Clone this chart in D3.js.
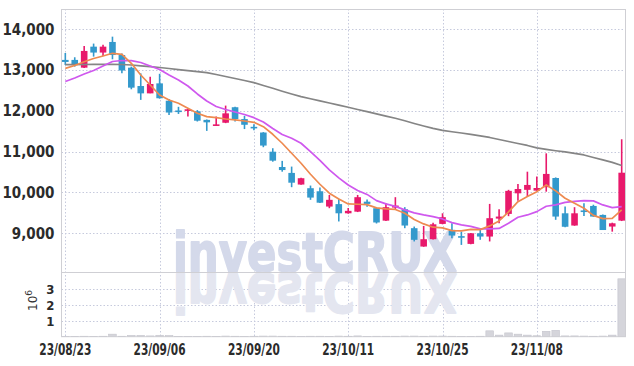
<!DOCTYPE html>
<html>
<head>
<meta charset="utf-8">
<script src="https://cdn.jsdelivr.net/npm/d3@7.9.0/dist/d3.min.js"></script>
<style>
  body { margin: 0; background: #fff; }
  svg { display: block; }
  .axis text {
    font-family: "Liberation Sans Narrow", "DejaVu Sans Condensed", sans-serif;
    font-weight: bold;
    font-size: 15px;
    fill: #2b2b2b;
  }
  .axis .domain { display: none; }
</style>
</head>
<body>
<svg id="chart" width="634" height="366"></svg>
<script>
// Korean trading days, 2023-08-23 .. 2023-11-21 (yy/mm/dd)
const dates = [
  '23/08/23', '23/08/24', '23/08/25', '23/08/28', '23/08/29', '23/08/30', '23/08/31', '23/09/01', '23/09/04', '23/09/05',
  '23/09/06', '23/09/07', '23/09/08', '23/09/11', '23/09/12', '23/09/13', '23/09/14', '23/09/15', '23/09/18', '23/09/19',
  '23/09/20', '23/09/21', '23/09/22', '23/09/25', '23/09/26', '23/09/27', '23/10/04', '23/10/05', '23/10/06', '23/10/10',
  '23/10/11', '23/10/12', '23/10/13', '23/10/16', '23/10/17', '23/10/18', '23/10/19', '23/10/20', '23/10/23', '23/10/24',
  '23/10/25', '23/10/26', '23/10/27', '23/10/30', '23/10/31', '23/11/01', '23/11/02', '23/11/03', '23/11/06', '23/11/07',
  '23/11/08', '23/11/09', '23/11/10', '23/11/13', '23/11/14', '23/11/15', '23/11/16', '23/11/17', '23/11/20', '23/11/21',
];

const opens = [
  13250, 13250, 13060, 13575, 13430, 13690, 13370, 13060, 12610, 12430,
  12675, 12250, 12010, 12000, 11990, 11780, 11640, 11710, 12090, 11800,
  11610, 11470, 11000, 10625, 10480, 10195, 10105, 10030, 9655, 9715,
  9490, 9530, 9775, 9615, 9310, 9630, 9590, 9125, 8675, 8855,
  9230, 9085, 8930, 8740, 9000, 8920, 9360, 9475, 9980, 10065,
  10045, 10130, 10355, 9490, 9190, 9560, 9670, 9450, 9165, 9310,
];
const highs = [
  13420, 13315, 13590, 13650, 13620, 13820, 13410, 13085, 12920, 12840,
  12910, 12290, 12100, 12060, 12020, 11790, 11860, 12130, 12100, 11880,
  11670, 11480, 11085, 10775, 10635, 10360, 10170, 10120, 9940, 9845,
  9620, 9940, 9830, 9630, 9735, 9885, 9640, 9165, 9180, 9260,
  9490, 9245, 9040, 9010, 9100, 9720, 9590, 10065, 10210, 10510,
  10390, 10960, 10370, 9655, 9640, 9735, 9700, 9460, 9260, 11305,
];
const lows = [
  13125, 13085, 13050, 13330, 13345, 13265, 12920, 12530, 12270, 12430,
  12300, 11900, 11925, 11860, 11740, 11510, 11640, 11700, 11740, 11555,
  11525, 11110, 10755, 10510, 10130, 10190, 9820, 9740, 9615, 9290,
  9480, 9520, 9650, 9240, 9300, 9575, 9125, 8800, 8670, 8850,
  9220, 8880, 8715, 8730, 8840, 8800, 9245, 9420, 9795, 9900,
  10040, 10020, 9330, 9150, 9185, 9425, 9405, 9080, 9040, 9300,
];
const closes = [
  13200, 13150, 13470, 13430, 13575, 13370, 12990, 12570, 12430, 12660,
  12310, 11960, 11990, 12040, 11760, 11720, 11670, 11940, 11800, 11660,
  11600, 11150, 10780, 10550, 10240, 10350, 9875, 9750, 9820, 9490,
  9550, 9885, 9720, 9265, 9640, 9680, 9190, 8840, 8855, 9220,
  9395, 8945, 8920, 9000, 8920, 9370, 9410, 10040, 10085, 10185,
  10110, 10455, 9410, 9160, 9490, 9550, 9410, 9080, 9245, 10485,
];
const volumes = [
  20000, 20000, 30000, 20000, 30000, 160000, 30000, 80000, 80000, 50000,
  90000, 70000, 20000, 20000, 20000, 30000, 20000, 40000, 30000, 20000,
  30000, 40000, 40000, 30000, 30000, 20000, 30000, 30000, 20000, 40000,
  30000, 50000, 20000, 30000, 30000, 30000, 40000, 40000, 30000, 40000,
  40000, 30000, 20000, 20000, 30000, 370000, 100000, 240000, 160000, 100000,
  60000, 340000, 400000, 50000, 50000, 40000, 30000, 40000, 100000, 3650000,
];

// moving averages
const ma5 = [
  13044, 13113, 13206, 13285, 13346, 13412, 13388, 13167, 12880, 12635,
  12390, 12268, 12187, 12064, 11942, 11859, 11834, 11802, 11778, 11753,
  11721, 11614, 11427, 11207, 10962, 10717, 10447, 10202, 9982, 9842,
  9720, 9712, 9703, 9622, 9597, 9585, 9492, 9340, 9230, 9149,
  9132, 9066, 9060, 9095, 9090, 9181, 9303, 9524, 9776, 9899,
  10021, 10185, 10040, 9859, 9737, 9614, 9440, 9360, 9365, 9573,
];
const ma20 = [
  12721, 12807, 12905, 12991, 13101, 13211, 13236, 13231, 13187, 13101,
  13015, 12880, 12758, 12611, 12415, 12243, 12109, 12035, 11974, 11913,
  11834, 11729, 11570, 11423, 11329, 11207, 11001, 10786, 10553, 10357,
  10185, 10051, 9953, 9801, 9720, 9659, 9573, 9499, 9450, 9409,
  9352, 9262, 9205, 9169, 9107, 9110, 9120, 9247, 9394, 9450,
  9531, 9663, 9695, 9757, 9781, 9801, 9794, 9695, 9629, 9654,
];
const ma60 = [
  13133, 13135, 13138, 13140, 13140, 13140, 13138, 13125, 13106, 13086,
  13064, 13040, 13013, 12988, 12961, 12937, 12893, 12844, 12795, 12746,
  12692, 12623, 12554, 12483, 12415, 12349, 12297, 12246, 12194, 12140,
  12089, 12035, 11981, 11927, 11873, 11819, 11758, 11692, 11631, 11570,
  11521, 11489, 11459, 11423, 11386, 11349, 11300, 11251, 11202, 11153,
  11092, 11055, 11023, 10994, 10957, 10920, 10859, 10798, 10737, 10663,
];

const priceTicks = [9000, 10000, 11000, 12000, 13000, 14000];
const volumeTicks = [1000000, 2000000, 3000000];
const dateTicks = ['23/08/23', '23/09/06', '23/09/20', '23/10/11', '23/10/25', '23/11/08'];

const UP = '#e8196b';
const DOWN = '#3399cc';
const GRID = '#c6cadd';
const FRAME = '#cfcfd4';

const plotLeft = 61.5;
const plotRight = 625.5;
const plotTop = 9;
const plotSplit = 272;
const plotBottom = 336.7;

const svg = d3.select('#chart');

const x = d3.scaleBand()
  .domain(dates)
  .range([60.6, 626.4])
  .paddingInner(0.3)
  .paddingOuter(0.15);
const cx = (d) => x(d) + x.bandwidth() / 2;

const y = d3.scaleLinear().domain([8051, 14498]).range([plotSplit, plotTop]);
const yv = d3.scaleLinear().domain([0, 4080000]).range([plotBottom, plotSplit]);

const candles = dates.map((date, i) => ({
  date,
  open: opens[i],
  high: highs[i],
  low: lows[i],
  close: closes[i],
  volume: volumes[i],
}));

svg.append('defs').append('clipPath').attr('id', 'price-clip')
  .append('rect')
  .attr('x', plotLeft).attr('y', plotTop)
  .attr('width', plotRight - plotLeft).attr('height', plotSplit - plotTop);

// grid
const grid = svg.append('g').attr('class', 'grid')
  .attr('stroke', GRID).attr('stroke-width', 1).attr('stroke-dasharray', '1.5,2');

grid.selectAll('line.h')
  .data(priceTicks)
  .join('line')
  .attr('class', 'h')
  .attr('x1', plotLeft).attr('x2', plotRight)
  .attr('y1', (d) => Math.round(y(d)) + 0.5)
  .attr('y2', (d) => Math.round(y(d)) + 0.5);

grid.selectAll('line.hv')
  .data(volumeTicks)
  .join('line')
  .attr('class', 'hv')
  .attr('x1', plotLeft).attr('x2', plotRight)
  .attr('y1', (d) => Math.round(yv(d)) + 0.5)
  .attr('y2', (d) => Math.round(yv(d)) + 0.5);

grid.selectAll('line.v')
  .data(dateTicks)
  .join('line')
  .attr('class', 'v')
  .attr('y1', plotTop).attr('y2', plotBottom)
  .attr('x1', (d) => Math.round(cx(d)) + 0.5)
  .attr('x2', (d) => Math.round(cx(d)) + 0.5);

// watermark with reflection
const mark = svg.append('g').attr('class', 'watermark')
  .attr('font-family', '"DejaVu Sans", sans-serif')
  .attr('font-weight', 'bold')
  .attr('font-size', 54)
  .attr('stroke-linejoin', 'round');

mark.append('text')
  .attr('x', 173).attr('y', plotSplit - 1)
  .attr('textLength', 284).attr('lengthAdjust', 'spacingAndGlyphs')
  .attr('fill', '#d4d9ea')
  .attr('stroke', '#d4d9ea')
  .attr('stroke-width', 1.8)
  .text('investCRUX');

mark.append('text')
  .attr('x', 173).attr('y', plotSplit - 1)
  .attr('transform', `translate(0,${plotSplit * 2 + 1}) scale(1,-1)`)
  .attr('textLength', 284).attr('lengthAdjust', 'spacingAndGlyphs')
  .attr('fill', '#e4e6f0')
  .attr('stroke', '#e4e6f0')
  .attr('stroke-width', 1.8)
  .text('investCRUX');

// volume bars
svg.append('g').attr('class', 'volume')
  .selectAll('rect')
  .data(candles)
  .join('rect')
  .attr('x', (d) => cx(d.date) - 3.8)
  .attr('width', 7.6)
  .attr('y', (d) => yv(d.volume))
  .attr('height', (d) => plotBottom - yv(d.volume))
  .attr('fill', '#d5d5db')
  .attr('stroke', '#c4c4cc')
  .attr('stroke-width', 0.6);

// candles
const candleLayer = svg.append('g').attr('class', 'candles');
const colorOf = (d) => (d.close >= d.open ? UP : DOWN);

candleLayer.selectAll('line')
  .data(candles)
  .join('line')
  .attr('x1', (d) => cx(d.date))
  .attr('x2', (d) => cx(d.date))
  .attr('y1', (d) => y(d.high))
  .attr('y2', (d) => y(d.low))
  .attr('stroke', colorOf)
  .attr('stroke-width', 1.6);

candleLayer.selectAll('rect')
  .data(candles)
  .join('rect')
  .attr('x', (d) => cx(d.date) - 3.3)
  .attr('width', 6.6)
  .attr('y', (d) => y(Math.max(d.open, d.close)))
  .attr('height', (d) => Math.max(1.6, Math.abs(y(d.open) - y(d.close))))
  .attr('fill', colorOf);

// moving averages
const lines = svg.append('g').attr('class', 'ma').attr('clip-path', 'url(#price-clip)');
const maLine = d3.line()
  .x((d, i) => cx(dates[i]))
  .y((d) => y(d))
  .curve(d3.curveLinear);

[
  { values: ma60, color: '#858585' },
  { values: ma20, color: '#cf58ee' },
  { values: ma5, color: '#ee8a50' },
].forEach((s) => {
  lines.append('path')
    .attr('d', maLine(s.values))
    .attr('fill', 'none')
    .attr('stroke', s.color)
    .attr('stroke-width', 1.7)
    .attr('stroke-linejoin', 'round');
});

// frame
svg.append('g').attr('class', 'frame')
  .attr('fill', 'none').attr('stroke', FRAME).attr('stroke-width', 1)
  .call((g) => {
    g.append('rect').attr('x', plotLeft).attr('y', plotTop + 0.5)
      .attr('width', plotRight - plotLeft).attr('height', plotBottom - plotTop - 0.5);
    g.append('line').attr('x1', plotLeft).attr('x2', plotRight)
      .attr('y1', plotSplit + 0.5).attr('y2', plotSplit + 0.5);
  });

// axes
svg.append('g')
  .attr('class', 'axis y-axis')
  .attr('transform', `translate(${plotLeft},0)`)
  .call(d3.axisLeft(y).tickValues(priceTicks).tickSize(0).tickPadding(7).tickFormat(d3.format(',')));

svg.append('g')
  .attr('class', 'axis v-axis')
  .attr('transform', `translate(${plotLeft},0)`)
  .call(d3.axisLeft(yv).tickValues(volumeTicks).tickSize(0).tickPadding(7).tickFormat((d) => d / 1e6))
  .call((g) => g.selectAll('text').style('font-size', '13px'));

svg.append('g')
  .attr('class', 'axis x-axis')
  .attr('transform', `translate(0,${plotBottom})`)
  .call(d3.axisBottom(x).tickValues(dateTicks).tickSize(0).tickPadding(8))
  .call((g) => g.selectAll('text')
    .attr('textLength', 52)
    .attr('lengthAdjust', 'spacingAndGlyphs'));

const unit = svg.append('text')
  .attr('transform', 'translate(37,311) rotate(-90)')
  .attr('font-family', '"DejaVu Sans", sans-serif')
  .attr('font-size', 12)
  .attr('fill', '#333');
unit.append('tspan').text('10');
unit.append('tspan').attr('font-size', 9).attr('dy', -5).text('6');
</script>
</body>
</html>
